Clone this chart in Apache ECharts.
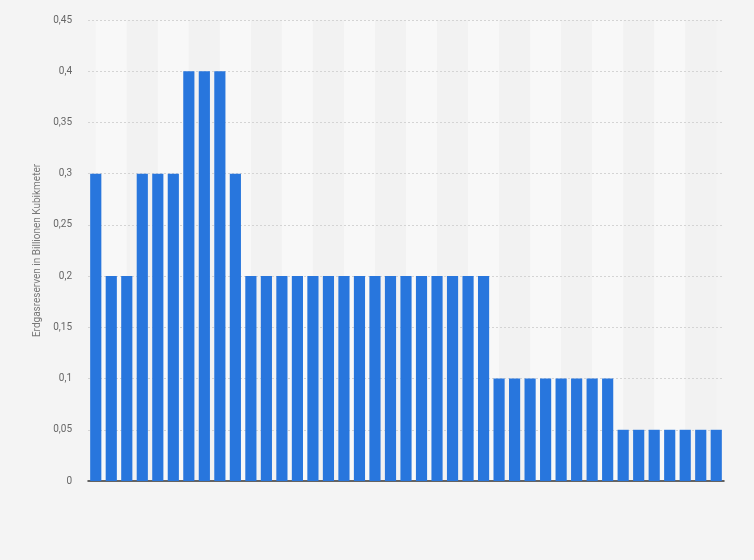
<!DOCTYPE html>
<html>
<head>
<meta charset="utf-8">
<script src="https://cdn.jsdelivr.net/npm/echarts@6/dist/echarts.min.js"></script>
<style>
html, body { margin: 0; padding: 0; background: #f4f4f4; }
#chart { width: 754px; height: 560px; }
</style>
</head>
<body>
<div id="chart"></div>
<script>
// Erdgasreserven, 41 Jahre (keine Jahresbeschriftung im Bild)
var categories = [];
for (var i = 0; i < 41; i++) categories.push(String(1980 + i));
var reserves = [
	0.3, 0.2, 0.2, 0.3, 0.3, 0.3, 0.4, 0.4, 0.4, 0.3,
	0.2, 0.2, 0.2, 0.2, 0.2, 0.2, 0.2, 0.2, 0.2, 0.2, 0.2, 0.2, 0.2, 0.2, 0.2, 0.2,
	0.1, 0.1, 0.1, 0.1, 0.1, 0.1, 0.1, 0.1,
	0.05, 0.05, 0.05, 0.05, 0.05, 0.05, 0.05
];
var yName = 'Erdgasreserven in Billionen Kubikmeter';

var myChart = echarts.init(document.getElementById('chart'));
myChart.setOption({
	backgroundColor: '#f4f4f4',
	animation: false,
	grid: { left: 88, right: 30, top: 20, bottom: 79 },
	xAxis: {
		type: 'category',
		data: categories,
		z: 0,
		axisLine: { lineStyle: { color: '#333', width: 1.5 } },
		axisTick: { show: false },
		axisLabel: { show: false },
		splitArea: {
			show: true,
			interval: 1,
			alignWithLabel: true,
			areaStyle: { color: ['#f8f8f8', '#f2f2f2'] }
		}
	},
	yAxis: {
		type: 'value',
		min: 0,
		max: 0.45,
		interval: 0.05,
		z: 1,
		name: yName,
		nameLocation: 'middle',
		nameGap: 43,
		nameTextStyle: { color: '#777', fontSize: 10, fontFamily: 'Roboto' },
		axisLine: { show: false },
		axisTick: { show: false },
		axisLabel: {
			color: '#666',
			fontSize: 10,
			fontFamily: 'Roboto',
			margin: 16,
			formatter: function(v) { return String(Math.round(v * 100) / 100).replace('.', ','); }
		},
		splitLine: { showMinLine: false, lineStyle: { color: '#d4d4d4', type: [2, 2] } }
	},
	series: [{
		name: yName,
		type: 'bar',
		data: reserves,
		barCategoryGap: '28%',
		itemStyle: { color: '#2876dd' }
	}]
});
</script>
</body>
</html>
